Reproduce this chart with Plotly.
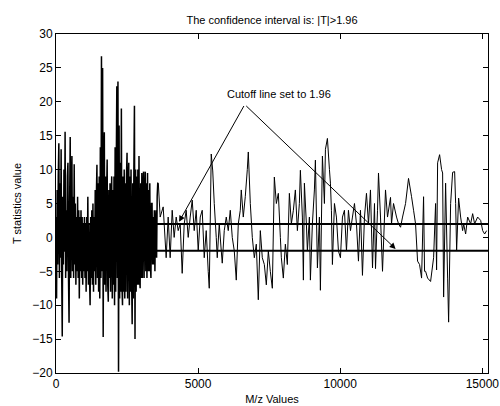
import plotly.graph_objects as go

# T statistic per M/z value
# crowded low-mass part of the spectrum
mz_low = [
    0, 20, 40, 60, 80, 100, 120, 140, 160, 180, 200, 220, 240, 260, 280, 300, 320, 340, 360, 380,
    400, 420, 440, 460, 480, 500, 520, 540, 560, 580, 600, 620, 640, 660, 680, 700, 720, 740, 760, 780,
    800, 820, 840, 860, 880, 900, 920, 940, 960, 980, 1000, 1020, 1040, 1060, 1080, 1100, 1120, 1140, 1160, 1180,
    1200, 1220, 1240, 1260, 1280, 1300, 1320, 1340, 1360, 1380, 1400, 1420, 1440, 1460, 1480, 1500, 1520, 1540, 1560, 1580,
    1600, 1620, 1640, 1660, 1680, 1700, 1720, 1740, 1760, 1780, 1800, 1820, 1840, 1860, 1880, 1900, 1920, 1940, 1960, 1980,
    2000, 2020, 2040, 2060, 2080, 2100, 2120, 2140, 2160, 2180, 2200, 2220, 2240, 2260, 2280, 2300, 2320, 2340, 2360, 2380,
    2400, 2420, 2440, 2460, 2480, 2500, 2520, 2540, 2560, 2580, 2600, 2620, 2640, 2660, 2680, 2700, 2720, 2740, 2760, 2780,
    2800, 2820, 2840, 2860, 2880, 2900, 2920, 2940, 2960, 2980, 3000, 3020, 3040, 3060, 3080, 3100, 3120, 3140, 3160, 3180,
    3200, 3220, 3240, 3260, 3280, 3300, 3320, 3340, 3360, 3380, 3400, 3420, 3440, 3460, 3480, 3500, 3520, 3540, 3560, 3580,
    3600,
]
t_low = [
    3, -9, 7, -4, 9, 13.9, -6, 8, -3, 13, -5, -14.6, 6, -4, 10, -2, 15.6, -6, 4, -5,
    9, 11, -6, -12.6, 5, 14.8, -6, 7, 12, -5, 6, -6, 10.8, -4, 5, -7, 3, -5, 6, -6,
    4, -9, 3, -5, 4, -6, 3, -7, 2, -5, 3, -6, 2, -8, 3, -5, 6, -7, 2, -6,
    -10, 3, -6, 4, -7, 5, -8, 3, -5, 7, -7, 6, 10.7, -6, 8, -8, 9, -9, 13.3, -6,
    26.7, -5, 25, -14.7, 8, 15.5, -7, 9, -8, 6, 11.5, -7, -9.5, 7, -6, 8, -8, 5, 9, -9,
    7, -7, 9, -10, 13.3, -8, 10, 22.3, -6, 23, -19.8, 16.5, -9, 11, -8, 19, -7, -10, 9, -8,
    10, -9, 8, -8, 9, 12.5, -9, 8, 11, -10, 9, -8, 10, -6, -12.8, 8, -9, 10, 19.4, -15,
    10, -8, 9, -7, 10, -7, 12, -6, -7.5, 8, -6, 9.5, -6, 7, 9.7, -6, 6, 9.7, -5, 8,
    -6, 9.5, -5, 7, -5, 8, -4, -6, 5, 5, -4, 3, -4, 4, -5, 2, 4, -3, 6, 8,
    8,
]
# quieter high-mass part
mz_high = [
    3600, 3665, 3771, 3876, 3947, 4017, 4088, 4158, 4229, 4299, 4370, 4440, 4511, 4581, 4652, 4722, 4793, 4863, 4934, 5004,
    5075, 5145, 5216, 5286, 5356, 5392, 5462, 5515, 5568, 5638, 5674, 5744, 5815, 5850, 5920, 5991, 6061, 6132, 6202, 6273,
    6343, 6414, 6484, 6519, 6590, 6660, 6731, 6766, 6837, 6907, 6978, 7048, 7118, 7189, 7259, 7330, 7400, 7471, 7541, 7612,
    7682, 7753, 7823, 7894, 7929, 7999, 8070, 8140, 8211, 8281, 8352, 8422, 8493, 8563, 8599, 8669, 8704, 8740, 8810, 8845,
    8916, 8951, 9021, 9092, 9127, 9198, 9268, 9303, 9374, 9444, 9480, 9550, 9621, 9656, 9691, 9726, 9797, 9867, 9938, 10008,
    10079, 10149, 10220, 10290, 10361, 10431, 10502, 10572, 10642, 10713, 10783, 10854, 10924, 10995, 11065, 11136, 11206, 11242, 11312, 11347,
    11418, 11488, 11594, 11664, 11770, 11805, 11876, 11982, 12052, 12123, 12193, 12299, 12404, 12510, 12581, 12651, 12722, 12792, 12863, 12933,
    12968, 13004, 13074, 13180, 13286, 13356, 13391, 13427, 13497, 13567, 13603, 13638, 13708, 13779, 13814, 13885, 13955, 14026, 14061, 14096,
    14166, 14237, 14307, 14343, 14413, 14484, 14589, 14660, 14730, 14836, 14942, 15012, 15082, 15153,
]
t_high = [
    8, 3, 4.5, -3, 3, -3, 4, 0, 3, 1, 2, -5.3, 2, 4, 0, 3, 5.5, 1, 4, -2,
    3, 4, -3, 1, -5, -7.5, 12.3, 9.8, 5, 0, -3, 2, -2, -3.8, 1, 3, 1, 4, 0, -2,
    -6.3, 2, 4, 7, 3, 6, 10, 12.6, 5, 0, -3, -1, -9.2, 1, -3, -4, -7, -2, -5, -7.5,
    8.9, 5, 6.5, 0, -3, -6, -1, -4, 6.5, 2, 4, 7, 1, 5, 9.9, 3, -6.3, 8, 2, -2,
    3, -6.3, 2, 7, 11.4, -4.5, 3, -7.8, 12, 5, 13, 14.6, 10, 8, 4, -4, 5, 3, -2, -3,
    3, 4, -2, 4, 1, 3, 5, 2, -3.5, 4, -5.6, 3, 6.5, 2, 7, -4.5, 5, -4.6, 4, 9.5,
    3, -5, 7, 3, 5.9, 2, 5, 3, 2, 1.5, 3, 5, 8.7, 6, 4, 2, -3.5, -4, -6, 6,
    -5, -5, -6, -6.5, -3, 5, -4.8, 11, 12.2, 10, 9.5, -8.8, 8, -6, -12.5, 5, 9.6, 9.7, 5, -1.9,
    5.8, 3, 1, 2, 0.5, 3, 2, 3.5, 2, 3, 2.5, 1, 0.5, 1,
]

cutoff = 1.96
x_end = 15200
label = 'Cutoff line set to 1.96'
apex = (6640, 19.6)
arrow_tips = [(4330, 2.3), (11950, -1.7)]
x_ticks = [0, 5000, 10000, 15000]

fig = go.Figure()
# the low part is sampled so tightly in the original that it prints as a solid black band
fig.add_trace(go.Scatter(x = mz_low, y = t_low, mode = 'lines',
                         line = dict(color = 'black', width = 1.5, simplify = False), showlegend = False))
fig.add_trace(go.Scatter(x = mz_high, y = t_high, mode = 'lines',
                         line = dict(color = 'black', width = 1, simplify = False), showlegend = False))
for level in [cutoff, -cutoff]:
    fig.add_trace(go.Scatter(x = [0, x_end], y = [level, level], mode = 'lines',
                             line = dict(color = 'black', width = 2), showlegend = False))

for tx, ty in arrow_tips:
    fig.add_annotation(x = tx, y = ty, ax = apex[0], ay = apex[1], axref = 'x', ayref = 'y',
                       text = '', showarrow = True, arrowhead = 2, arrowsize = 1.2,
                       arrowwidth = 1, arrowcolor = 'black')
fig.add_annotation(x = 7850, y = 21.2, text = label, showarrow = False,
                   font = dict(size = 11, color = 'black'))

axis = dict(showline = True, linecolor = 'black', linewidth = 1, mirror = 'ticks', automargin = False,
            ticks = 'inside', ticklen = 5, tickcolor = 'black', showgrid = False, zeroline = False,
            tickfont = dict(size = 12, color = 'black'))
fig.update_xaxes(range = [0, x_end], tickvals = x_ticks, ticktext = [str(t) for t in x_ticks],
                 title = dict(text = 'M/z Values', font = dict(size = 11, color = 'black'), standoff = 4), **axis)
fig.update_yaxes(range = [-20, 30], dtick = 5,
                 title = dict(text = 'T statistics value', font = dict(size = 11, color = 'black'), standoff = 8), **axis)
fig.update_layout(
    width = 500, height = 406,
    margin = dict(l = 56, r = 12, t = 34, b = 33),
    paper_bgcolor = 'white', plot_bgcolor = 'white',
    font = dict(family = 'Liberation Sans, Arial', color = 'black'),
    title = dict(text = 'The confidence interval is: |T|>1.96', x = 0.544, xanchor = 'center',
                 y = 0.95, yanchor = 'middle', font = dict(size = 11, color = 'black')),
)
fig.write_html('out.html', config = {'displayModeBar': False},
               post_script = "document.body.style.margin = '0';")
